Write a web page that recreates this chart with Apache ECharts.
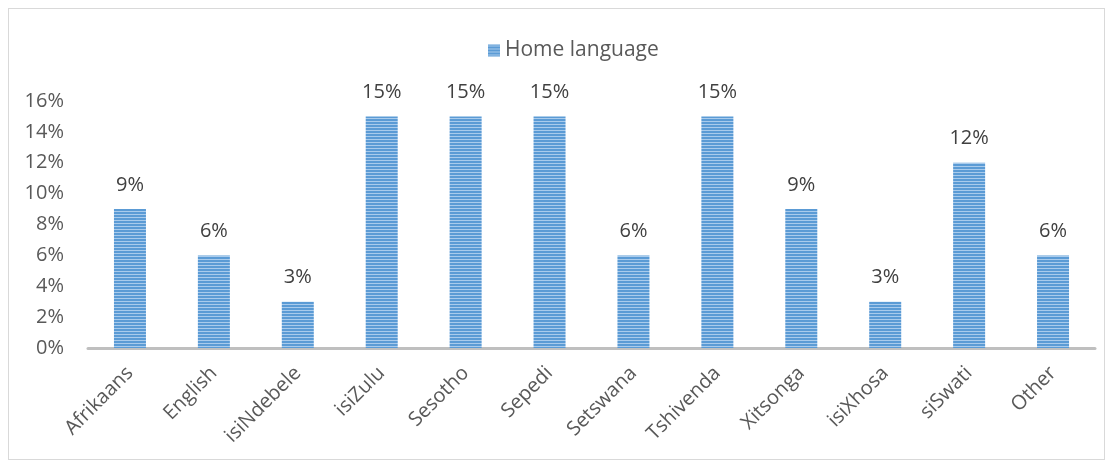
<!DOCTYPE html>
<html>
<head>
<meta charset="utf-8">
<script src="https://cdn.jsdelivr.net/npm/echarts@6/dist/echarts.min.js"></script>
<style>
  html, body { margin: 0; padding: 0; background: #fff; }
  #frame { position: absolute; left: 8px; top: 8px; width: 1097px; height: 452px; border: 1px solid #d9d9d9; box-sizing: border-box; }
  #chart { width: 1113px; height: 469px; position: absolute; left: 0; top: 0; }
</style>
</head>
<body>
<div id="frame"></div>
<div id="chart"></div>
<script>
const categories = ['Afrikaans', 'English', 'isiNdebele', 'isiZulu', 'Sesotho', 'Sepedi', 'Setswana', 'Tshivenda', 'Xitsonga', 'isiXhosa', 'siSwati', 'Other'];
const homeLanguage = [9, 6, 3, 15, 15, 15, 6, 15, 9, 3, 12, 6];
const seriesName = 'Home language';

// horizontal-stripe fill for the bars
function stripes() {
  const c = document.createElement('canvas');
  c.width = 8; c.height = 3;
  const g = c.getContext('2d');
  g.fillStyle = '#5b9bd5'; g.fillRect(0, 0, 8, 3);
  g.fillStyle = '#a9cbec'; g.fillRect(0, 1, 8, 1);
  return c;
}
const fill = { image: stripes(), repeat: 'repeat' };

const font = '"Open Sans", sans-serif';
const chart = echarts.init(document.getElementById('chart'));
chart.setOption({
  animation: false,
  textStyle: { fontFamily: font },
  legend: {
    top: 35, left: 483,
    itemWidth: 12, itemHeight: 12, itemGap: 6,
    textStyle: { fontSize: 21, color: '#595959', fontFamily: font },
    data: [{ name: seriesName, icon: 'rect', itemStyle: { color: fill } }]
  },
  grid: { left: 88, right: 18, top: 101, bottom: 121 },
  xAxis: {
    type: 'category', data: categories,
    axisLine: { lineStyle: { color: '#bfbfbf', width: 3 } },
    axisTick: { show: false },
    axisLabel: { rotate: 45, fontSize: 20, color: '#595959', margin: 22, interval: 0, fontFamily: font }
  },
  yAxis: {
    type: 'value', min: 0, max: 16, interval: 2,
    axisLine: { show: false }, axisTick: { show: false },
    splitLine: { show: false },
    axisLabel: { formatter: v => v + '%', fontSize: 20, color: '#595959', margin: 24, fontFamily: font }
  },
  series: [{
    name: seriesName, type: 'bar', data: homeLanguage,
    barWidth: 32,
    itemStyle: { color: fill },
    label: { show: true, position: 'top', distance: 14, formatter: p => p.value + '%', fontSize: 20, color: '#404040', fontFamily: font }
  }]
});
</script>
</body>
</html>
